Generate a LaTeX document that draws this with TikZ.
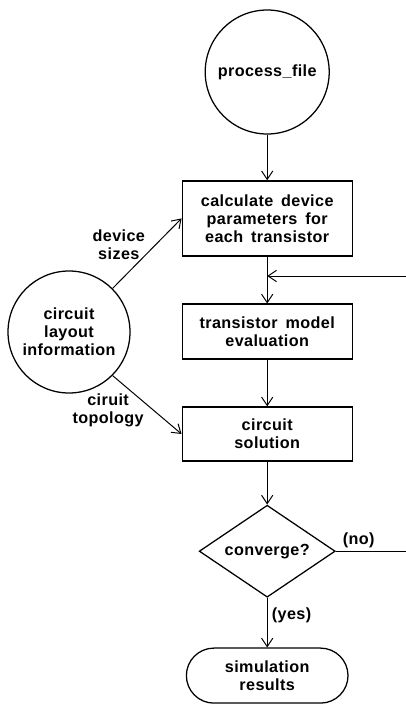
\documentclass[tikz,border=0pt]{standalone}
\usepackage{fontspec}
\setmainfont{Liberation Sans}[LetterSpace=2.5,WordSpace=1.6]
\usepackage{tikz}
\usetikzlibrary{arrows.meta,shapes.geometric,shapes.misc}

\begin{document}
\begin{tikzpicture}[
    font=\fontsize{11.5}{12.8}\selectfont\bfseries,
    bubble/.style={draw,circle,line width=0.9pt,minimum size=3.1cm,inner sep=0pt,align=center},
    procbox/.style={draw,rectangle,line width=0.9pt,minimum width=4.25cm,align=center},
    decision/.style={draw,diamond,aspect=1.5,line width=0.9pt,minimum width=3.4cm,minimum height=2.3cm,inner sep=0pt},
    endcap/.style={draw,rounded rectangle,line width=0.9pt,minimum width=4.275cm,minimum height=1.375cm,align=center},
    link/.style={line width=0.7pt},
    flow/.style={link,-{Straight Barb[length=6pt,width=8pt]}}
  ]
  \useasboundingbox (0,0) rectangle (10.125,-17.6);

  \draw (6.68,-1.8) node[bubble] (proc) {process\_file};
  \draw (6.68,-5.46) node[procbox,minimum height=1.875cm] (calc) {calculate device\\parameters for\\each transistor};
  \draw (6.68,-8.29) node[procbox,minimum height=1.375cm] (model) {transistor model\\evaluation};
  \draw (6.68,-10.85) node[procbox,minimum height=1.35cm] (sol) {circuit\\solution};
  \draw (6.68,-13.78) node[decision] (conv) {converge?};
  \draw (6.68,-16.89) node[endcap] (res) {simulation\\results};
  \draw (1.725,-8.3) node[bubble,minimum size=3.05cm] (layout) {circuit\\layout\\information};

  % loop back from the decision
  \coordinate (join) at (6.68,-6.9);
  \coordinate (rimtop) at (10.3,-6.9);
  \coordinate (rimlow) at (10.3,-13.78);

  \path[flow] (proc) edge (calc);
  \path[flow] (calc) edge (model);
  \path[flow] (model) edge (sol);
  \path[flow] (sol) edge (conv);
  \path[flow] (rimtop) edge (join);
  \path[flow] (layout.45) edge node[pos=0.62,label={[align=center]left:device\\sizes}] {} (calc.west);
  \path[flow] (layout.-45) edge node[pos=0.6,label={[align=center]left:ciruit\\topology}] {} (sol.west);
  \path[link] (conv.east) edge node[pos=0.3,label={[label distance=-5pt]above:(no)}] {} (rimlow);
  \path[flow] (conv.south) edge node[pos=0.35,label={[label distance=-4pt]right:(yes)}] {} (res.north);
\end{tikzpicture}
\end{document}
